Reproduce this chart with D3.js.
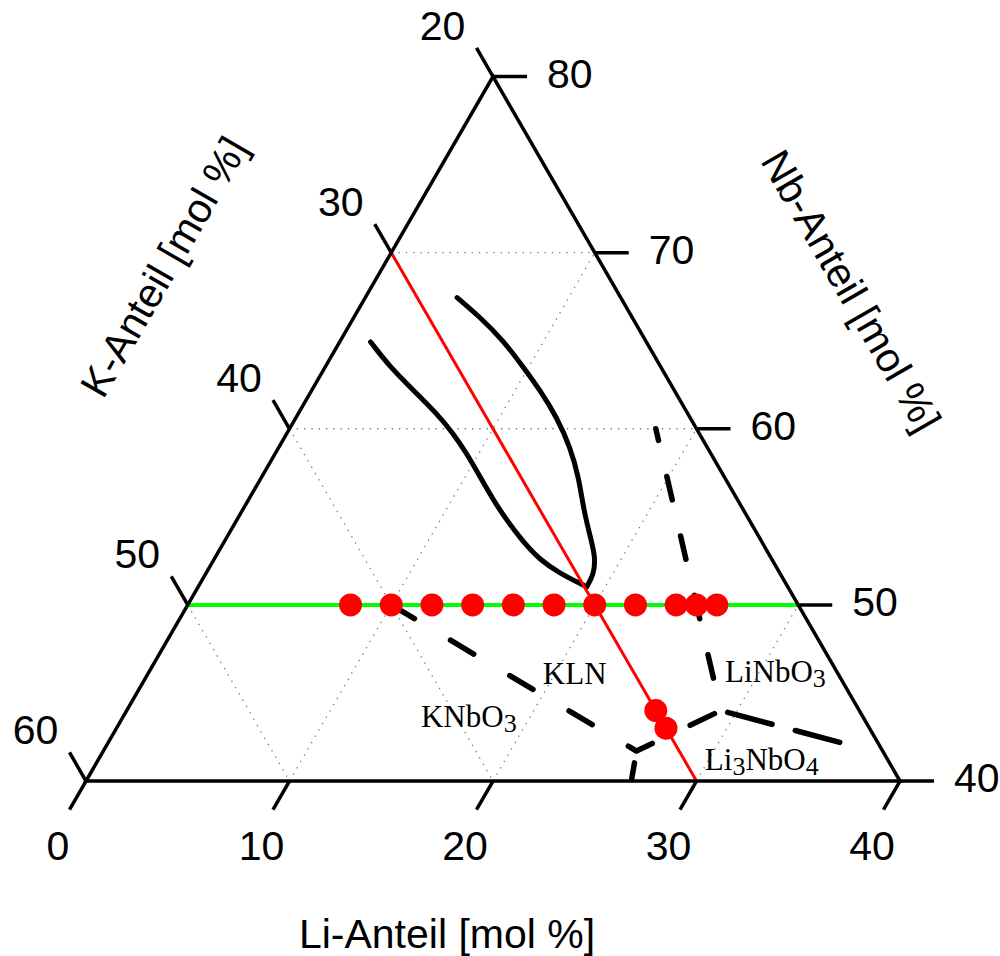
<!DOCTYPE html>
<html><head><meta charset="utf-8">
<script src="https://cdn.jsdelivr.net/npm/d3@7"></script>
<style>html,body{margin:0;padding:0;background:#fff;} svg{display:block;}</style>
</head><body>
<svg id="chart" width="1000" height="956"></svg>
<script>
// ---------------- data ----------------
const liTicks = [0, 10, 20, 30, 40];
const nbTicks = [40, 50, 60, 70, 80];
const kTicks  = [20, 30, 40, 50, 60];
const gridNb = [50, 60, 70];
const gridLi = [10, 20, 30];
const gridK  = [30, 40, 50];

// measured samples (Li, Nb in mol %)
const sampleLi = [8, 10, 12, 14, 16, 18, 20, 22, 24, 25, 26];
const sampleNb = [50, 50, 50, 50, 50, 50, 50, 50, 50, 50, 50];
const extraLi  = [26, 27];
const extraNb  = [44, 43];

const sectionNb = 50;   // green iso-Nb section
const sectionK  = 30;   // red iso-K section

// solid phase boundary curves (KLN field)
const curveLeftLi  = [1.52, 3.18, 4.99, 6.80, 8.18, 9.41, 10.73, 12.04, 13.27, 14.57, 16.04, 17.40, 18.66, 19.09];
const curveLeftNb  = [64.93, 63.51, 62.19, 60.87, 59.73, 58.60, 57.27, 55.95, 54.81, 53.68, 52.54, 51.79, 51.22, 51.03];
const curveRightLi = [4.51, 6.19, 8.00, 9.75, 11.24, 12.82, 14.34, 15.60, 16.80, 17.89, 18.70, 19.09, 19.09];
const curveRightNb = [67.45, 66.34, 65.01, 63.49, 62.17, 60.64, 58.93, 57.23, 55.33, 53.81, 52.67, 51.72, 51.03];

// dashed phase boundaries
const boundALi = [10, 26.2, 29.2];
const boundANb = [50, 41.7, 44.0];
const boundBLi = [29.2, 36.1];
const boundBNb = [44.0, 42.15];
const boundCLi = [18.0, 29.2];
const boundCNb = [60.0, 44.0];
const boundDLi = [26.2, 26.8];
const boundDNb = [41.7, 40.0];

const phaseNames = [["KLN", ""], ["KNbO", "3"], ["LiNbO", "3"], ["Li", "3", "NbO", "4"]];
const phaseLi = [19.7, 14.93, 28.59, 30.1];
const phaseNb = [45.5, 43.06, 45.62, 40.62];

// ---------------- drawing ----------------
const svg = d3.select("#chart");
const xS = d3.scaleLinear().domain([0, 40]).range([86, 900]);
const yS = d3.scaleLinear().domain([40, 80]).range([781, 76.5]);
function P(li, nb) { return [xS(li) + (xS(nb - 40) - xS(0)) / 2, yS(nb)]; }
const line = d3.line().x(d => d[0]).y(d => d[1]);
const zipP = (a, b) => a.map((v, i) => P(v, b[i]));

const g = svg.append("g");

// grid
const gridSegs = [];
gridNb.forEach(n => gridSegs.push([P(0, n), P(80 - n, n)]));
gridLi.forEach(l => gridSegs.push([P(l, 40), P(l, 80 - l)]));
gridK.forEach(k => gridSegs.push([P(0, 100 - k), P(60 - k, 40)]));
g.selectAll(".grid").data(gridSegs).enter().append("path")
  .attr("d", d => line(d)).attr("fill", "none")
  .attr("stroke", "#777").attr("stroke-width", 1.3).attr("stroke-dasharray", "1.3,6");

// green section
g.append("path").attr("d", line([P(0, sectionNb), P(80 - sectionNb, sectionNb)]))
  .attr("stroke", "#00ff00").attr("stroke-width", 4).attr("fill", "none");

// solid curves
const curveGen = d3.line().x(d => d[0]).y(d => d[1]).curve(d3.curveBasis);
[[curveLeftLi, curveLeftNb], [curveRightLi, curveRightNb]].forEach(([a, b]) => {
  g.append("path").attr("d", curveGen(zipP(a, b))).attr("fill", "none")
    .attr("stroke", "#000").attr("stroke-width", 5).attr("stroke-linecap", "round");
});

// red section
g.append("path").attr("d", line([P(0, 100 - sectionK), P(60 - sectionK, 40)]))
  .attr("stroke", "#ff0000").attr("stroke-width", 3).attr("fill", "none");

// dashed boundaries
const dashed = [
  [boundALi, boundANb, "27,42", 0],
  [boundBLi, boundBNb, "46,24", -7],
  [boundCLi, boundCNb, "24,37", 12],
  [boundDLi, boundDNb, "17,12", 17]
];
dashed.forEach(([a, b, da, off]) => {
  g.append("path").attr("d", line(zipP(a, b))).attr("fill", "none")
    .attr("stroke", "#000").attr("stroke-width", 5.5).attr("stroke-linecap", "round")
    .attr("stroke-linejoin", "round")
    .attr("stroke-dasharray", da).attr("stroke-dashoffset", off);
});

// dots
const dots = zipP(sampleLi, sampleNb).concat(zipP(extraLi, extraNb));
g.selectAll(".dot").data(dots).enter().append("circle")
  .attr("cx", d => d[0]).attr("cy", d => d[1]).attr("r", 11.5).attr("fill", "#ff0000");

// triangle frame
g.append("path").attr("d", line([P(0, 40), P(40, 40), P(0, 80)]) + "Z")
  .attr("fill", "none").attr("stroke", "#000").attr("stroke-width", 3.5).attr("stroke-linejoin", "miter");

// ticks + labels
const TL = 33, c60 = Math.cos(Math.PI / 3), s60 = Math.sin(Math.PI / 3);
const font = "'Liberation Sans', Arial, sans-serif";
const tickG = g.append("g");
liTicks.forEach(l => {
  const [x, y] = P(l, 40);
  tickG.append("line").attr("x1", x).attr("y1", y).attr("x2", x - TL * c60).attr("y2", y + TL * s60)
    .attr("stroke", "#000").attr("stroke-width", 3.5);
  tickG.append("text").attr("x", x - 28).attr("y", 860).attr("text-anchor", "middle")
    .attr("font-family", font).attr("font-size", 41).text(l);
});
nbTicks.forEach(n => {
  const [x, y] = P(80 - n, n);
  tickG.append("line").attr("x1", x).attr("y1", y).attr("x2", x + 34).attr("y2", y)
    .attr("stroke", "#000").attr("stroke-width", 3.5);
  tickG.append("text").attr("x", x + 54).attr("y", y + 11).attr("text-anchor", "start")
    .attr("font-family", font).attr("font-size", 41).text(n);
});
kTicks.forEach(k => {
  const [x, y] = P(0, 100 - k);
  tickG.append("line").attr("x1", x).attr("y1", y).attr("x2", x - TL * c60).attr("y2", y - TL * s60)
    .attr("stroke", "#000").attr("stroke-width", 3.5);
  tickG.append("text").attr("x", x - 50.5).attr("y", y - 51.6 + 15).attr("text-anchor", "middle")
    .attr("font-family", font).attr("font-size", 41).text(k);
});

// axis titles
svg.append("text").attr("x", 447).attr("y", 948).attr("text-anchor", "middle")
  .attr("font-family", font).attr("font-size", 41).text("Li-Anteil [mol %]");
svg.append("text").attr("transform", "translate(164,267) rotate(-60)")
  .attr("text-anchor", "middle").attr("dominant-baseline", "central")
  .attr("font-family", font).attr("font-size", 41).text("K-Anteil [mol %]");
svg.append("text").attr("transform", "translate(851,291) rotate(60)")
  .attr("text-anchor", "middle").attr("dominant-baseline", "central")
  .attr("font-family", font).attr("font-size", 41).text("Nb-Anteil [mol %]");

// phase labels
phaseNames.forEach((parts, i) => {
  const [x, y] = P(phaseLi[i], phaseNb[i]);
  const t = svg.append("text").attr("x", x).attr("y", y)
    .attr("font-family", "'Liberation Serif', 'Times New Roman', serif").attr("font-size", 31);
  parts.forEach((p, j) => {
    if (!p) return;
    const sub = j % 2 === 1;
    t.append("tspan").attr("font-size", sub ? 26 : 31).attr("dy", sub ? 5 : (j > 0 ? -5 : 0)).text(p);
  });
});
</script>
</body></html>
